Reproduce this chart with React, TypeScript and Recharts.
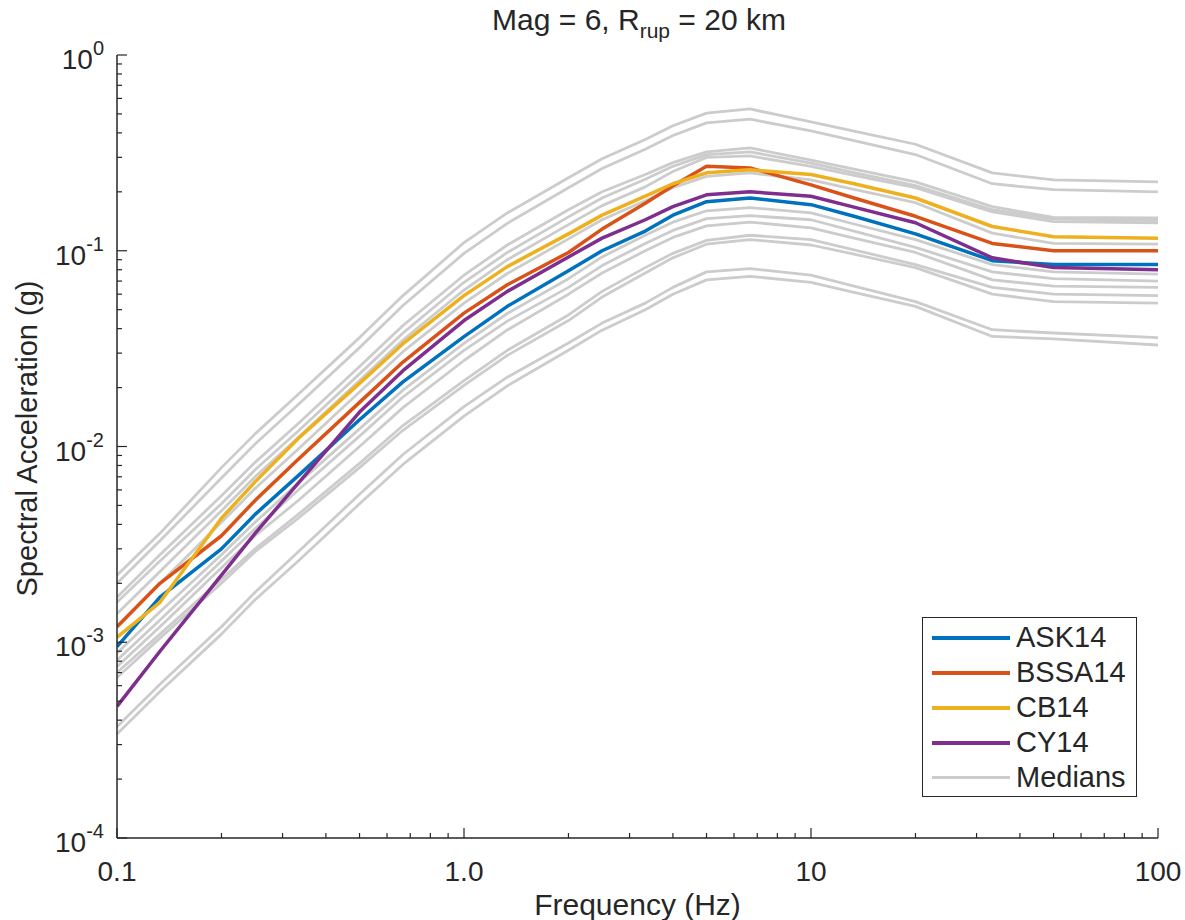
import { LineChart, Line, XAxis, YAxis, Legend } from 'recharts'

// frequencies (Hz) at which every curve is sampled
const freqs = [0.1, 0.133, 0.2, 0.25, 0.333, 0.5, 0.667, 1, 1.333, 2, 2.5, 3.33, 4, 5, 6.67, 10, 13.3, 20, 33.3, 50, 100]

// NGA-West2 models, spectral acceleration (g)
const ask14 = [0.00095, 0.0017, 0.003, 0.0045, 0.0071, 0.0137, 0.0214, 0.0364, 0.052, 0.079, 0.1, 0.126, 0.152, 0.178, 0.186, 0.172, 0.15, 0.122, 0.089, 0.085, 0.085]
const bssa14 = [0.0012, 0.002, 0.0035, 0.0053, 0.0086, 0.0168, 0.027, 0.048, 0.067, 0.098, 0.129, 0.175, 0.215, 0.27, 0.265, 0.217, 0.186, 0.15, 0.109, 0.1, 0.1]
const cb14 = [0.00106, 0.0016, 0.0043, 0.0066, 0.011, 0.021, 0.0335, 0.059, 0.083, 0.122, 0.152, 0.19, 0.22, 0.25, 0.259, 0.245, 0.22, 0.186, 0.133, 0.118, 0.116]
const cy14 = [0.00047, 0.0009, 0.0022, 0.0036, 0.0065, 0.015, 0.0244, 0.044, 0.062, 0.093, 0.116, 0.144, 0.168, 0.193, 0.2, 0.19, 0.167, 0.139, 0.092, 0.082, 0.08]

// grey median curves
const median01 = [0.0022, 0.0036, 0.0078, 0.0116, 0.0185, 0.036, 0.059, 0.11, 0.156, 0.236, 0.295, 0.37, 0.435, 0.505, 0.53, 0.455, 0.408, 0.35, 0.25, 0.23, 0.225]
const median02 = [0.002, 0.0033, 0.0069, 0.0103, 0.0164, 0.032, 0.0525, 0.097, 0.138, 0.21, 0.263, 0.33, 0.388, 0.45, 0.47, 0.41, 0.365, 0.31, 0.22, 0.205, 0.2]
const median03 = [0.0017, 0.0028, 0.0056, 0.0083, 0.0131, 0.0256, 0.0415, 0.075, 0.107, 0.162, 0.2, 0.245, 0.282, 0.32, 0.335, 0.29, 0.261, 0.225, 0.168, 0.148, 0.147]
const median04 = [0.0016, 0.0026, 0.0051, 0.0076, 0.012, 0.0235, 0.038, 0.069, 0.098, 0.149, 0.186, 0.232, 0.27, 0.31, 0.32, 0.28, 0.251, 0.215, 0.162, 0.145, 0.143]
const median05 = [0.0014, 0.0023, 0.0047, 0.007, 0.0111, 0.0217, 0.035, 0.063, 0.09, 0.136, 0.17, 0.212, 0.254, 0.3, 0.305, 0.27, 0.243, 0.21, 0.158, 0.141, 0.139]
const median06 = [0.0012, 0.002, 0.0041, 0.0061, 0.0097, 0.019, 0.0305, 0.054, 0.0765, 0.115, 0.144, 0.18, 0.21, 0.24, 0.25, 0.23, 0.206, 0.176, 0.123, 0.109, 0.108]
const median07 = [0.00088, 0.00143, 0.0028, 0.0041, 0.0065, 0.0123, 0.0194, 0.0336, 0.0478, 0.072, 0.093, 0.12, 0.14, 0.16, 0.166, 0.156, 0.137, 0.114, 0.085, 0.078, 0.076]
const median08 = [0.00081, 0.0013, 0.0026, 0.0038, 0.006, 0.0113, 0.0179, 0.031, 0.0437, 0.065, 0.084, 0.109, 0.127, 0.146, 0.151, 0.144, 0.126, 0.104, 0.078, 0.072, 0.07]
const median09 = [0.00075, 0.0012, 0.0024, 0.0035, 0.0053, 0.01, 0.0158, 0.0275, 0.0394, 0.06, 0.077, 0.1, 0.117, 0.134, 0.14, 0.131, 0.116, 0.098, 0.071, 0.066, 0.065]
const median10 = [0.0007, 0.0011, 0.0021, 0.003, 0.0045, 0.0082, 0.0128, 0.0217, 0.031, 0.047, 0.062, 0.082, 0.097, 0.113, 0.12, 0.114, 0.101, 0.085, 0.065, 0.06, 0.059]
const median11 = [0.00066, 0.00105, 0.002, 0.0029, 0.0043, 0.0078, 0.0121, 0.0205, 0.0292, 0.044, 0.058, 0.077, 0.092, 0.108, 0.114, 0.107, 0.096, 0.082, 0.06, 0.055, 0.054]
const median12 = [0.00037, 0.00061, 0.0012, 0.0018, 0.0029, 0.0057, 0.0091, 0.016, 0.0226, 0.0338, 0.0427, 0.054, 0.065, 0.078, 0.081, 0.075, 0.066, 0.055, 0.0395, 0.038, 0.036]
const median13 = [0.00034, 0.00056, 0.0011, 0.00165, 0.0026, 0.0051, 0.0081, 0.0143, 0.0204, 0.031, 0.0393, 0.05, 0.06, 0.071, 0.074, 0.069, 0.0613, 0.052, 0.0365, 0.0355, 0.033]

const medianCurves = [median01, median02, median03, median04, median05, median06, median07, median08, median09, median10, median11, median12, median13]

const models = [
  { name: 'ASK14', color: '#0072BD', values: ask14 },
  { name: 'BSSA14', color: '#D95319', values: bssa14 },
  { name: 'CB14', color: '#EDB120', values: cb14 },
  { name: 'CY14', color: '#7E2F8E', values: cy14 },
]

const xMajor = [0.1, 1, 10, 100]
const xTickLabels = ['0.1', '1.0', '10', '100']
const yMajor = [1e-4, 1e-3, 1e-2, 1e-1, 1]
const yExponents = ['-4', '-3', '-2', '-1', '0']
const minorSteps = [2, 3, 4, 5, 6, 7, 8, 9]

const xTicks = [...xMajor, ...xMajor.slice(0, -1).flatMap((d) => minorSteps.map((m) => d * m))]
const yTicks = [...yMajor, ...yMajor.slice(0, -1).flatMap((d) => minorSteps.map((m) => d * m))]

const GREY = '#CCCCCC'
const INK = '#262626'
const FONT = '"Liberation Sans", Arial, Helvetica, sans-serif'

const rows = freqs.map((f, i) => {
  const row: Record<string, number> = { f }
  medianCurves.forEach((m, k) => {
    row['median' + k] = m[i]
  })
  models.forEach((c) => {
    row[c.name] = c.values[i]
  })
  return row
})

const majorIndex = (v: number, majors: number[]) => majors.findIndex((m) => Math.abs(m - v) / m < 1e-9)

function BottomTick({ x, y, payload }: any) {
  const i = majorIndex(payload.value, xMajor)
  return (
    <g>
      <line x1={x} x2={x} y1={y} y2={y - (i >= 0 ? 10 : 5)} stroke={INK} strokeWidth={1.2} />
      {i >= 0 && (
        <text x={x} y={y + 43} textAnchor="middle" fontSize={28} fill={INK} fontFamily={FONT}>
          {xTickLabels[i]}
        </text>
      )}
    </g>
  )
}

function TopTick({ x, y, payload }: any) {
  const i = majorIndex(payload.value, xMajor)
  return <line x1={x} x2={x} y1={y} y2={y + (i >= 0 ? 10 : 5)} stroke={INK} strokeWidth={1.2} />
}

function LeftTick({ x, y, payload }: any) {
  const i = majorIndex(payload.value, yMajor)
  return (
    <g>
      <line x1={x} x2={x + (i >= 0 ? 10 : 5)} y1={y} y2={y} stroke={INK} strokeWidth={1.2} />
      {i >= 0 && (
        <text x={x - 13} y={y + 14} textAnchor="end" fill={INK} fontFamily={FONT}>
          <tspan fontSize={28}>10</tspan>
          <tspan fontSize={20} dy={-14}>{yExponents[i]}</tspan>
        </text>
      )}
    </g>
  )
}

function RightTick({ x, y, payload }: any) {
  const i = majorIndex(payload.value, yMajor)
  return <line x1={x} x2={x - (i >= 0 ? 10 : 5)} y1={y} y2={y} stroke={INK} strokeWidth={1.2} />
}

function LegendBox() {
  const entries = [...models.map((m) => ({ name: m.name, color: m.color, w: 4 })), { name: 'Medians', color: GREY, w: 2.5 }]
  return (
    <div
      style={{
        width: 215,
        height: 180,
        boxSizing: 'border-box',
        border: `1.5px solid ${INK}`,
        background: '#fff',
        paddingTop: 2,
        fontFamily: FONT,
      }}
    >
      {entries.map((e) => (
        <div key={e.name} style={{ display: 'flex', alignItems: 'center', height: 35 }}>
          <div style={{ marginLeft: 9, width: 78, height: e.w, background: e.color }} />
          <span style={{ marginLeft: 6, fontSize: 29, color: INK, lineHeight: '35px' }}>{e.name}</span>
        </div>
      ))}
    </div>
  )
}

export default function App() {
  return (
    <div style={{ position: 'absolute', left: 0, top: 0, width: 1185, height: 920, background: '#fff', fontFamily: FONT }}>
      <svg width={1185} height={50} style={{ position: 'absolute', left: 0, top: 0, zIndex: 2 }}>
        <text x={639} y={30} textAnchor="middle" fontSize={30} fill={INK} fontFamily={FONT}>
          Mag = 6, R
          <tspan fontSize={21} dy={8}>rup</tspan>
          <tspan dy={-8}> = 20 km</tspan>
        </text>
      </svg>
      <LineChart width={1185} height={920} data={rows} margin={{ top: 55, right: 27, bottom: 22, left: 37 }}>
        <XAxis
          dataKey="f"
          type="number"
          scale="log"
          domain={[0.1, 100]}
          ticks={xTicks}
          interval={0}
          allowDataOverflow
          height={60}
          tickSize={0}
          tickMargin={0}
          tickLine={false}
          axisLine={{ stroke: INK, strokeWidth: 1.5 }}
          tick={(p: any) => <BottomTick {...p} />}
          label={{
            content: (p: any) => (
              <text
                x={p.viewBox.x + p.viewBox.width / 2}
                y={p.viewBox.y + 77}
                textAnchor="middle"
                fontSize={30}
                fill={INK}
                fontFamily={FONT}
              >
                Frequency (Hz)
              </text>
            ),
          }}
        />
        <XAxis
          xAxisId="top"
          orientation="top"
          dataKey="f"
          type="number"
          scale="log"
          domain={[0.1, 100]}
          ticks={xTicks}
          interval={0}
          allowDataOverflow
          height={0}
          tickSize={0}
          tickMargin={0}
          tickLine={false}
          axisLine={{ stroke: INK, strokeWidth: 1.5 }}
          tick={(p: any) => <TopTick {...p} />}
        />
        <YAxis
          type="number"
          scale="log"
          domain={[1e-4, 1]}
          ticks={yTicks}
          interval={0}
          allowDataOverflow
          width={80}
          tickSize={0}
          tickMargin={0}
          tickLine={false}
          axisLine={{ stroke: INK, strokeWidth: 1.5 }}
          tick={(p: any) => <LeftTick {...p} />}
          label={{
            content: (p: any) => {
              const cy = p.viewBox.y + p.viewBox.height / 2 - 8
              return (
                <text
                  x={37}
                  y={cy}
                  transform={`rotate(-90, 37, ${cy})`}
                  textAnchor="middle"
                  fontSize={29}
                  fill={INK}
                  fontFamily={FONT}
                >
                  Spectral Acceleration (g)
                </text>
              )
            },
          }}
        />
        <YAxis
          yAxisId="right"
          orientation="right"
          type="number"
          scale="log"
          domain={[1e-4, 1]}
          ticks={yTicks}
          interval={0}
          allowDataOverflow
          width={0}
          tickSize={0}
          tickMargin={0}
          tickLine={false}
          axisLine={{ stroke: INK, strokeWidth: 1.5 }}
          tick={(p: any) => <RightTick {...p} />}
        />
        {medianCurves.map((_, k) => (
          <Line
            key={'median' + k}
            dataKey={'median' + k}
            type="linear"
            stroke={GREY}
            strokeWidth={2.8}
            strokeLinejoin="round"
            dot={false}
            activeDot={false}
            legendType="none"
            isAnimationActive={false}
          />
        ))}
        {models.map((m) => (
          <Line
            key={m.name}
            dataKey={m.name}
            type="linear"
            stroke={m.color}
            strokeWidth={3.5}
            strokeLinejoin="round"
            dot={false}
            activeDot={false}
            isAnimationActive={false}
          />
        ))}
        <Legend
          layout="horizontal"
          verticalAlign="middle"
          align="center"
          content={() => <LegendBox />}
          wrapperStyle={{ left: 922, top: 617, width: 215, height: 180 }}
        />
      </LineChart>
    </div>
  )
}
